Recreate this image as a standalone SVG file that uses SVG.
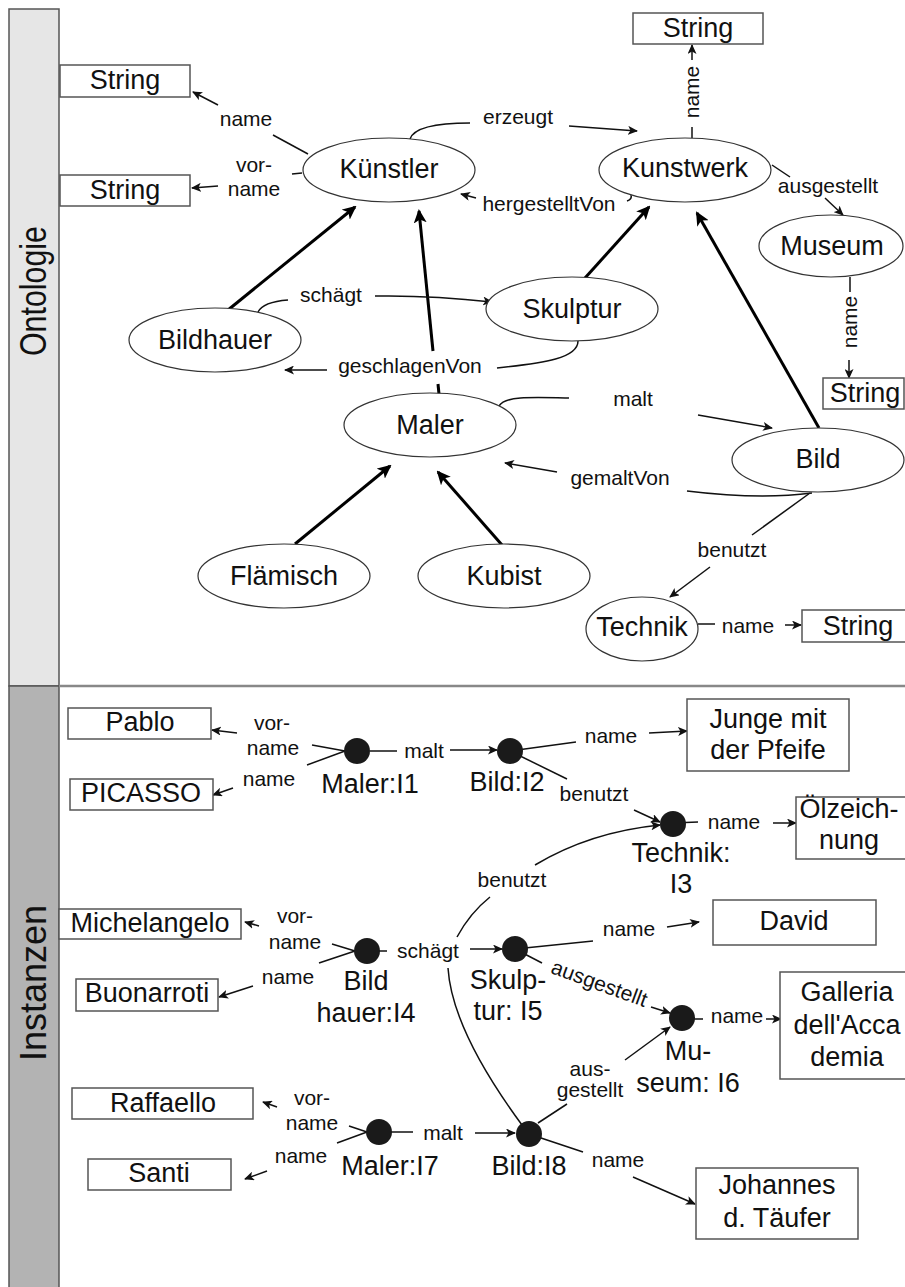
<svg xmlns="http://www.w3.org/2000/svg" width="905" height="1287" viewBox="0 0 905 1287">
<style>
.n{fill:#fff;stroke:#333;stroke-width:1.2}
.b{fill:#fff;stroke:#555;stroke-width:1.5}
.t{font-family:"Liberation Sans",Arial,sans-serif;font-size:27px;text-anchor:middle;fill:#111}
.l{font-family:"Liberation Sans",Arial,sans-serif;font-size:21px;text-anchor:middle;fill:#111}
.e{fill:none;stroke:#111;stroke-width:1.5}
.ea{fill:none;stroke:#111;stroke-width:1.5;marker-end:url(#a)}
.s{fill:none;stroke:#000;stroke-width:3;marker-end:url(#A)}
.s0{fill:none;stroke:#000;stroke-width:3}
.d{fill:#1a1a1a}
.band{font-family:"Liberation Sans",Arial,sans-serif;font-size:36px;text-anchor:middle;fill:#111}
</style>
<defs>
<marker id="a" markerUnits="userSpaceOnUse" markerWidth="10" markerHeight="9" refX="9" refY="4.5" orient="auto"><path d="M0,0 L10,4.5 L0,9 L2.5,4.5 z" fill="#111"/></marker>
<marker id="A" markerUnits="userSpaceOnUse" markerWidth="14" markerHeight="13" refX="12" refY="6.5" orient="auto"><path d="M0,0 L14,6.5 L0,13 L3.5,6.5 z" fill="#000"/></marker>
</defs>
<rect width="905" height="1287" fill="#fff"/>
<g id="bands">
<rect x="9" y="9" width="50" height="677" fill="#e6e6e6" stroke="#555" stroke-width="1.5"/>
<rect x="9" y="686" width="50" height="610" fill="#b3b3b3" stroke="#555" stroke-width="1.5"/>
<line x1="59" y1="686" x2="905" y2="686" stroke="#888" stroke-width="2.5"/>
<text class="band" transform="translate(46,291) rotate(-90)" textLength="130" lengthAdjust="spacingAndGlyphs">Ontologie</text>
<text class="band" transform="translate(46,983) rotate(-90)" textLength="156" lengthAdjust="spacingAndGlyphs">Instanzen</text>
</g>
<g id="connectors">
<!-- subclass -->
<line class="s" x1="228" y1="310" x2="355" y2="207"/>
<line class="s0" x1="439" y1="394" x2="438" y2="384"/>
<line class="s" x1="433" y1="351" x2="419" y2="211"/>
<line class="s" x1="585" y1="278" x2="649" y2="207"/>
<line class="s" x1="819" y1="428" x2="697" y2="213"/>
<line class="s" x1="295" y1="544" x2="390" y2="466"/>
<line class="s" x1="502" y1="545" x2="438" y2="472"/>
<!-- Künstler name -->
<line class="e" x1="308" y1="154" x2="273" y2="135"/>
<text class="l" x="246" y="126">name</text>
<line class="ea" x1="218" y1="105" x2="193" y2="92"/>
<!-- vorname -->
<line class="e" x1="302" y1="173" x2="292" y2="174"/>
<text class="l" x="254" y="172">vor-</text>
<text class="l" x="254" y="196">name</text>
<line class="ea" x1="218" y1="186" x2="192" y2="188"/>
<!-- erzeugt -->
<path class="e" d="M410,139 C414,127 440,123 470,123"/>
<text class="l" x="518" y="124">erzeugt</text>
<line class="ea" x1="569" y1="126" x2="637" y2="131"/>
<!-- hergestelltVon -->
<path class="e" d="M631,195 C632,198 630,200 627,201"/>
<text class="l" x="549" y="211">hergestelltVon</text>
<line class="ea" x1="476" y1="198" x2="461" y2="194"/>
<!-- Kunstwerk name -->
<line class="e" x1="692" y1="138" x2="692" y2="127"/>
<text class="l" transform="translate(699,92) rotate(-90)">name</text>
<line class="ea" x1="692" y1="60" x2="692" y2="45"/>
<!-- ausgestellt -->
<line class="e" x1="772" y1="165" x2="790" y2="177"/>
<text class="l" x="828" y="193">ausgestellt</text>
<line class="ea" x1="825" y1="198" x2="843" y2="215"/>
<!-- Museum name -->
<line class="e" x1="850" y1="277" x2="850" y2="292"/>
<text class="l" transform="translate(857,322) rotate(-90)">name</text>
<line class="ea" x1="849" y1="360" x2="849" y2="378"/>
<!-- schägt -->
<path class="e" d="M258,312 C262,304 275,301 288,300"/>
<text class="l" x="331" y="302">schägt</text>
<path class="ea" d="M375,296 Q430,295 492,302"/>
<!-- geschlagenVon -->
<path class="e" d="M578,341 C578,358 545,363 497,368"/>
<text class="l" x="410" y="373">geschlagenVon</text>
<line class="ea" x1="327" y1="370" x2="285" y2="370"/>
<!-- malt -->
<path class="e" d="M499,406 C505,396 530,397 569,398"/>
<text class="l" x="633" y="406">malt</text>
<line class="ea" x1="698" y1="415" x2="772" y2="428"/>
<!-- gemaltVon -->
<path class="e" d="M812,493 Q760,500 687,491"/>
<text class="l" x="620" y="485">gemaltVon</text>
<line class="ea" x1="557" y1="472" x2="505" y2="463"/>
<!-- benutzt -->
<line class="e" x1="810" y1="493" x2="752" y2="535"/>
<text class="l" x="732" y="557">benutzt</text>
<line class="ea" x1="710" y1="567" x2="670" y2="597"/>
<!-- Technik name -->
<line class="e" x1="698" y1="624" x2="715" y2="624"/>
<text class="l" x="748" y="633">name</text>
<line class="ea" x1="785" y1="625" x2="801" y2="625"/>

<!-- Instances -->
<!-- I1 -->
<line class="e" x1="345" y1="751" x2="312" y2="745"/>
<line class="e" x1="345" y1="751" x2="307" y2="765"/>
<text class="l" x="272" y="730">vor-</text>
<text class="l" x="273" y="755">name</text>
<line class="ea" x1="237" y1="733" x2="212" y2="730"/>
<text class="l" x="269" y="786">name</text>
<line class="ea" x1="233" y1="788" x2="213" y2="795"/>
<line class="e" x1="370" y1="751" x2="397" y2="751"/>
<text class="l" x="424" y="758">malt</text>
<line class="ea" x1="450" y1="750" x2="497" y2="750"/>
<!-- I2 -->
<line class="e" x1="510" y1="751" x2="576" y2="742"/>
<text class="l" x="611" y="743">name</text>
<line class="ea" x1="649" y1="733" x2="687" y2="731"/>
<line class="e" x1="510" y1="751" x2="567" y2="779"/>
<text class="l" x="594" y="801">benutzt</text>
<line class="ea" x1="634" y1="810" x2="660" y2="822"/>
<!-- I3 -->
<line class="e" x1="673" y1="823" x2="698" y2="822"/>
<text class="l" x="734" y="829">name</text>
<line class="ea" x1="773" y1="823" x2="796" y2="823"/>
<!-- I8 benutzt I3 -->
<path class="e" d="M522,1125 Q452,1030 448,968"/>
<path class="e" d="M457,937 Q470,913 490,897"/>
<text class="l" x="512" y="887">benutzt</text>
<path class="ea" d="M535,865 Q590,832 660,825"/>
<!-- I4 -->
<line class="e" x1="355" y1="951" x2="332" y2="944"/>
<line class="e" x1="355" y1="951" x2="319" y2="963"/>
<text class="l" x="295" y="923">vor-</text>
<text class="l" x="295" y="949">name</text>
<line class="ea" x1="259" y1="926" x2="245" y2="922"/>
<text class="l" x="288" y="984">name</text>
<line class="ea" x1="253" y1="986" x2="219" y2="997"/>
<line class="e" x1="367" y1="951" x2="387" y2="951"/>
<text class="l" x="428" y="958">schägt</text>
<line class="ea" x1="470" y1="949" x2="502" y2="949"/>
<!-- I5 -->
<line class="e" x1="515" y1="949" x2="593" y2="941"/>
<text class="l" x="629" y="936">name</text>
<line class="ea" x1="667" y1="927" x2="699" y2="922"/>
<line class="e" x1="515" y1="949" x2="542" y2="963"/>
<text class="l" transform="translate(597,990) rotate(20)">ausgestellt</text>
<line class="ea" x1="651" y1="1007" x2="670" y2="1013"/>
<!-- I6 -->
<line class="e" x1="670" y1="1019" x2="703" y2="1019"/>
<text class="l" x="737" y="1023">name</text>
<line class="ea" x1="766" y1="1019" x2="781" y2="1019"/>
<!-- I7 -->
<line class="e" x1="367" y1="1132" x2="349" y2="1126"/>
<line class="e" x1="367" y1="1132" x2="337" y2="1143"/>
<text class="l" x="312" y="1105">vor-</text>
<text class="l" x="312" y="1130">name</text>
<line class="ea" x1="277" y1="1107" x2="263" y2="1102"/>
<text class="l" x="301" y="1163">name</text>
<line class="ea" x1="267" y1="1171" x2="245" y2="1179"/>
<line class="e" x1="379" y1="1132" x2="413" y2="1132"/>
<text class="l" x="443" y="1140">malt</text>
<line class="ea" x1="475" y1="1133" x2="515" y2="1133"/>
<!-- I8 -->
<line class="e" x1="538" y1="1123" x2="567" y2="1104"/>
<text class="l" x="590" y="1076">aus-</text>
<text class="l" x="590" y="1097">gestellt</text>
<line class="ea" x1="625" y1="1060" x2="670" y2="1027"/>
<line class="e" x1="529" y1="1134" x2="583" y2="1152"/>
<text class="l" x="618" y="1167">name</text>
<line class="ea" x1="633" y1="1177" x2="695" y2="1204"/>
</g>

<!-- Ontology nodes -->
<g id="kuenstler"><ellipse class="n" cx="389" cy="170" rx="86" ry="32"/><text class="t" x="389" y="178">Künstler</text></g>
<g id="kunstwerk"><ellipse class="n" cx="685" cy="170" rx="86" ry="32"/><text class="t" x="685" y="177">Kunstwerk</text></g>
<g id="museum"><ellipse class="n" cx="831" cy="246" rx="72" ry="31"/><text class="t" x="832" y="255">Museum</text></g>
<g id="skulptur"><ellipse class="n" cx="572" cy="309" rx="86" ry="32"/><text class="t" x="572" y="318">Skulptur</text></g>
<g id="bildhauer"><ellipse class="n" cx="215" cy="340" rx="86" ry="32"/><text class="t" x="215" y="349">Bildhauer</text></g>
<g id="maler"><ellipse class="n" cx="430" cy="425" rx="86" ry="32"/><text class="t" x="430" y="434">Maler</text></g>
<g id="bild"><ellipse class="n" cx="818" cy="460" rx="86" ry="32"/><text class="t" x="818" y="468">Bild</text></g>
<g id="technik"><ellipse class="n" cx="642" cy="629" rx="56" ry="32"/><text class="t" x="642" y="636">Technik</text></g>
<g id="flaemisch"><ellipse class="n" cx="284" cy="576" rx="86" ry="32"/><text class="t" x="284" y="585">Flämisch</text></g>
<g id="kubist"><ellipse class="n" cx="504" cy="576" rx="86" ry="32"/><text class="t" x="504" y="585">Kubist</text></g>
<g id="string1"><rect class="b" x="60" y="65" width="130" height="32"/><text class="t" x="125" y="89">String</text></g>
<g id="string2"><rect class="b" x="60" y="175" width="130" height="31"/><text class="t" x="125" y="199">String</text></g>
<g id="string3"><rect class="b" x="633" y="13" width="130" height="31"/><text class="t" x="698" y="37">String</text></g>
<g id="string4"><rect class="b" x="823" y="378" width="81" height="31"/><text class="t" x="865" y="402">String</text></g>
<g id="string5"><rect class="b" x="802" y="610" width="105" height="32"/><text class="t" x="858" y="635">String</text></g>

<!-- Instance nodes -->
<g id="i1"><circle class="d" cx="357" cy="751" r="13"/><text class="t" x="370" y="793">Maler:I1</text></g>
<g id="i2"><circle class="d" cx="510" cy="751" r="13"/><text class="t" x="507" y="791">Bild:I2</text></g>
<g id="i3"><circle class="d" cx="673" cy="824" r="13"/><text class="t" x="681" y="862">Technik:</text><text class="t" x="681" y="893">I3</text></g>
<g id="i4"><circle class="d" cx="367" cy="951" r="13"/><text class="t" x="366" y="990">Bild</text><text class="t" x="366" y="1022">hauer:I4</text></g>
<g id="i5"><circle class="d" cx="515" cy="949" r="13"/><text class="t" x="508" y="989">Skulp-</text><text class="t" x="508" y="1020">tur: I5</text></g>
<g id="i6"><circle class="d" cx="682" cy="1018" r="13"/><text class="t" x="688" y="1060">Mu-</text><text class="t" x="688" y="1092">seum: I6</text></g>
<g id="i7"><circle class="d" cx="379" cy="1132" r="13"/><text class="t" x="390" y="1175">Maler:I7</text></g>
<g id="i8"><circle class="d" cx="529" cy="1134" r="13"/><text class="t" x="529" y="1175">Bild:I8</text></g>
<g id="pablo"><rect class="b" x="68" y="708" width="143" height="31"/><text class="t" x="140" y="731">Pablo</text></g>
<g id="picasso"><rect class="b" x="70" y="779" width="143" height="31"/><text class="t" x="141" y="802">PICASSO</text></g>
<g id="junge"><rect class="b" x="687" y="699" width="162" height="72"/><text class="t" x="768" y="728">Junge mit</text><text class="t" x="768" y="759">der Pfeife</text></g>
<g id="oel"><rect class="b" x="796" y="797" width="112" height="62"/><text class="t" x="849" y="818">Ölzeich-</text><text class="t" x="849" y="849">nung</text></g>
<g id="michelangelo"><rect class="b" x="59" y="909" width="182" height="30"/><text class="t" x="150" y="932">Michelangelo</text></g>
<g id="buonarroti"><rect class="b" x="76" y="979" width="142" height="32"/><text class="t" x="147" y="1002">Buonarroti</text></g>
<g id="david"><rect class="b" x="713" y="900" width="163" height="45"/><text class="t" x="794" y="930">David</text></g>
<g id="galleria"><rect class="b" x="780" y="972" width="128" height="107"/><text class="t" x="847" y="1001">Galleria</text><text class="t" x="847" y="1034">dell'Acca</text><text class="t" x="847" y="1066">demia</text></g>
<g id="johannes"><rect class="b" x="696" y="1168" width="162" height="71"/><text class="t" x="777" y="1194">Johannes</text><text class="t" x="777" y="1227">d. Täufer</text></g>
<g id="raffaello"><rect class="b" x="72" y="1088" width="181" height="31"/><text class="t" x="163" y="1112">Raffaello</text></g>
<g id="santi"><rect class="b" x="88" y="1159" width="143" height="31"/><text class="t" x="159" y="1182">Santi</text></g>
</svg>
